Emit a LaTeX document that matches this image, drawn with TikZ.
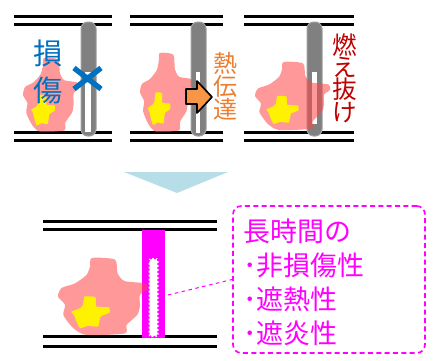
\documentclass[tikz,border=0pt]{standalone}
\usepackage{fontspec}
\setmainfont{Noto Sans CJK JP}

\definecolor{tubegray}{RGB}{128,128,128}
\definecolor{flamered}{RGB}{255,70,70}
\definecolor{dmgblue}{RGB}{0,112,192}
\definecolor{heatorange}{RGB}{237,125,49}
\definecolor{burnred}{RGB}{192,0,0}
\definecolor{arrowfill}{RGB}{247,150,70}
\definecolor{stepblue}{RGB}{183,222,232}
\definecolor{shockpink}{RGB}{255,0,255}

% stacked glyphs may touch
\newcommand{\tightlines}{\lineskiplimit=-20pt\relax}

\tikzset{
    wall/.style={line width=0.09cm},
    tube/.style={fill=tubegray, draw=gray!75, line width=0.03cm, rounded corners=0.2cm},
    vlabel/.style={align=center, inner sep=0pt},
    flame/.pic={
        \fill[flamered, opacity=0.55] plot[smooth cycle, tension=0.4] coordinates {
            (38,0) (64,2) (67,20) (75,30) (98,33) (100,41) (92,48) (92,63) (89,74) (77,87)
            (75,98) (32,100) (17,91) (6,74) (8,61) (0,50) (4,39) (19,33) (32,22) (36,11)};
        \fill[yellow] plot[smooth cycle, tension=0.3] coordinates {
            (30,50) (42,51) (43,63) (57,64) (58,71) (48,76) (45,89) (34,88) (25,91) (21,83)
            (18,74) (15,70) (25,65) (28,61)};
    }
}

\begin{document}
\begin{tikzpicture}[x=0.03cm, y=-0.03cm]
    \useasboundingbox (0,0) rectangle (438,361);

    % walls
    \draw[wall] (14,16) -- (112,16) (14,24) -- (112,24) (14,132) -- (112,132) (14,140) -- (112,140);
    \draw[wall] (130,16) -- (223,16) (130,24) -- (223,24) (130,132) -- (223,132) (130,140) -- (223,140);
    \draw[wall] (244,16) -- (354,16) (244,24) -- (354,24) (244,132) -- (354,132) (244,140) -- (354,140);
    \draw[wall] (43,221) -- (217,221) (43,229) -- (217,229) (43,336) -- (217,336) (43,346) -- (217,346);

    % damage
    \draw[tube] (81,22) rectangle (96,136);
    \fill[white] (85,72) rectangle (91,132);
    \pic[xscale=0.55, yscale=0.74] at (23,58) {flame};
    \draw[dmgblue, line width=0.16cm] (74,68) -- (101,89) (74,89) -- (101,68);
    \node[vlabel, text=dmgblue, font=\fontsize{25}{31}\selectfont] (dmg) at (48,72) {損\\傷};

    % heat transfer
    \draw[tube] (191,22) rectangle (206,136);
    \fill[white] (195.5,72) rectangle (199.5,133);
    \pic[xscale=0.52, yscale=0.79] at (140,53) {flame};
    \draw[fill=arrowfill, line width=0.05cm, line join=round]
        (186,89) -- (197,89) -- (197,81) -- (212,97) -- (197,113) -- (197,104) -- (186,104) -- cycle;
    \node[vlabel, text=heatorange, font=\fontsize{20.5}{19.5}\selectfont\tightlines]
        (heat) at (226,86) {熱\\伝\\達};

    % burn through
    \draw[tube] (307,22) rectangle (322,136);
    \fill[white] (312,72) rectangle (317,124);
    \pic[xscale=0.75, yscale=0.68] at (255,62) {flame};
    \node[vlabel, text=burnred, font=\fontsize{21}{19}\selectfont\tightlines]
        (burn) at (345,78) {燃\\え\\抜\\け};

    \fill[stepblue] (124,172) -- (228,172) -- (177,193) -- cycle;

    % protected wall
    \fill[shockpink] (142,230) rectangle (165,338);
    \draw[fill=white, draw=shockpink, line width=0.07cm, dash pattern=on 0.06cm off 0.06cm, rounded corners=0.08cm]
        (148.5,258) rectangle (158.5,337);
    \pic[xscale=0.89, yscale=0.77] at (58,258) {flame};

    \node[draw=shockpink, dashed, line width=0.05cm, dash pattern=on 0.15cm off 0.1cm,
        rounded corners=0.25cm, minimum width=5.76cm, minimum height=4.41cm] (note) at (329,279.5) {};
    \node[anchor=north west, align=left, inner sep=0pt, text=shockpink,
        font=\fontsize{23}{29}\selectfont] (props) at (243,219)
        {長時間の\\･非損傷性\\･遮熱性\\･遮炎性};
    \coordinate (tip) at (168,295);
    \draw[shockpink, dashed, line width=0.03cm] (tip) -- (note.west);
\end{tikzpicture}
\end{document}
